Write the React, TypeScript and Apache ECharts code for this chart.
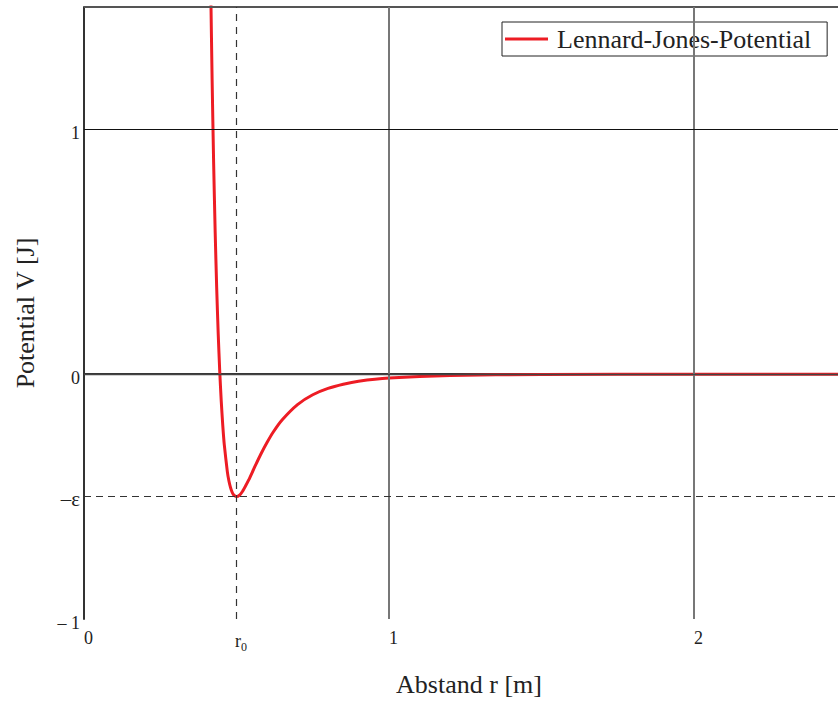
import React, { useEffect, useRef } from "react";
import * as echarts from "echarts";

const seriesName = "Lennard-Jones-Potential";
const rValues = [0.41, 0.415, 0.42, 0.425, 0.43, 0.435, 0.44, 0.445, 0.45, 0.455, 0.46, 0.47, 0.475, 0.48, 0.485, 0.49, 0.495, 0.5, 0.51, 0.52, 0.53, 0.54, 0.56, 0.58, 0.6, 0.62, 0.65, 0.7, 0.75, 0.8, 0.85, 0.9, 1.0, 1.2, 1.5, 2.0, 2.5];
const vValues = [2.121, 1.619, 1.205, 0.864, 0.583, 0.353, 0.165, 0.012, -0.111, -0.21, -0.289, -0.399, -0.435, -0.461, -0.48, -0.492, -0.498, -0.5, -0.494, -0.478, -0.456, -0.432, -0.378, -0.326, -0.279, -0.237, -0.186, -0.124, -0.084, -0.058, -0.041, -0.029, -0.016, -0.005, -0.001, -0.0002, -0.0001];

const xTickValues = [0, 0.5, 1, 2];
const xTickTexts = ["{v|0}", "{v|r}{s|0}", "{v|1}", "{v|2}"];
const yTickValues = [-1, -0.5, 0, 1];
const yTickTexts = ["{v|\u2013 1}", "{e|\u2013\u03b5}", "{v|0}", "{v|1}"];

const solidX = [1, 2];
const solidY = [1, 0];
const dashedX = [0.5];
const dashedY = [-0.5];
const X_MAX = 2.472;
const Y_MAX = 1.5;

const FONT = "'Liberation Serif', 'Times New Roman', serif";

export default function App() {
  const ref = useRef<HTMLDivElement>(null);
  useEffect(() => {
    document.body.style.margin = "0";
    if (!ref.current) return;
    const chart = echarts.init(ref.current, null, { renderer: "svg" });
    const pick = (vals: number[], texts: string[]) => (v: number) => {
      const i = vals.findIndex((t) => Math.abs(t - v) < 1e-9);
      return i >= 0 ? texts[i] : "";
    };
    const markData: any[] = [
      { yAxis: Y_MAX, lineStyle: { color: "#555", width: 2, type: "solid" } },
      ...solidX.map((x) => ({ xAxis: x, lineStyle: { color: "#777", width: 2, type: "solid" } })),
      ...solidY.map((y) => ({ yAxis: y, lineStyle: { color: y === 0 ? "#444" : "#111", width: y === 0 ? 1.3 : 1, type: "solid" } })),
      ...dashedX.map((x) => ({ xAxis: x, lineStyle: { color: "#333", width: 1.2, type: [7, 6] } })),
      ...dashedY.map((y) => ({ yAxis: y, lineStyle: { color: "#333", width: 1.2, type: [7, 5] } })),
    ];
    chart.setOption({
      animation: false,
      textStyle: { fontFamily: FONT },
      grid: {
        left: 84,
        top: 7,
        right: 0,
        bottom: 79,
        show: false,
      },
      legend: {
        data: [
          {
            name: seriesName,
            icon: "path://M0,0 L43,0 L43,3 L0,3 Z",
            itemStyle: { color: "#ed1c24" },
          },
        ],
        left: 502,
        top: 22,
        orient: "horizontal",
        itemWidth: 43,
        itemHeight: 28,
        padding: [4, 16, 4, 3],
        borderColor: "#222",
        borderWidth: 1,
        backgroundColor: "#fff",
        textStyle: { fontFamily: FONT, fontSize: 26, color: "#222", padding: [0, 0, 0, 4] },
      },
      xAxis: {
        type: "value",
        min: 0,
        max: X_MAX,
        interval: 0.5,
        name: "Abstand r [m]",
        nameLocation: "middle",
        nameGap: 52,
        nameTextStyle: { fontFamily: FONT, fontSize: 26, color: "#222", padding: [0, 0, 0, 16] },
        axisLine: { show: true, lineStyle: { color: "#333", width: 2 } },
        axisTick: { show: false },
        splitLine: { show: false },
        axisLabel: {
          fontFamily: FONT,
          fontSize: 18,
          color: "#222",
          margin: 10,
          showMaxLabel: false,
          formatter: pick(xTickValues, xTickTexts),
          rich: {
            v: { fontFamily: FONT, fontSize: 18, color: "#222", padding: [0, 0, 0, 9] },
            s: { fontFamily: FONT, fontSize: 12, color: "#222", padding: [12, 0, 0, 0] },
          },
        },
      },
      yAxis: {
        type: "value",
        min: -1,
        max: Y_MAX,
        interval: 0.5,
        name: "Potential V [J]",
        nameLocation: "middle",
        nameGap: 46,
        nameRotate: 90,
        nameTextStyle: { fontFamily: FONT, fontSize: 26, color: "#222" },
        axisLine: { show: true, lineStyle: { color: "#333", width: 2 } },
        axisTick: { show: false },
        splitLine: { show: false },
        axisLabel: {
          fontFamily: FONT,
          fontSize: 18,
          color: "#222",
          margin: 4,
          formatter: pick(yTickValues, yTickTexts),
          rich: {
            v: { fontFamily: FONT, fontSize: 18, color: "#222", padding: [7, 0, 0, 0] },
            e: { fontFamily: FONT, fontSize: 21, color: "#222", padding: [4, 0, 0, 0] },
          },
        },
      },
      series: [
        {
          name: "grid-lines",
          type: "line",
          data: [],
          z: 1,
          silent: true,
          markLine: {
            silent: true,
            symbol: ["none", "none"],
            label: { show: false },
            animation: false,
            data: markData,
          },
        },
        {
          name: seriesName,
          type: "line",
          z: 3,
          data: rValues.map((r, i) => [r, vValues[i]]),
          symbol: "none",
          smooth: 0.2,
          clip: true,
          color: "#ed1c24",
          lineStyle: { color: "#ed1c24", width: 3 },
        },
      ],
    });
    return () => chart.dispose();
  }, []);
  return <div ref={ref} style={{ width: 838, height: 702 }} />;
}
